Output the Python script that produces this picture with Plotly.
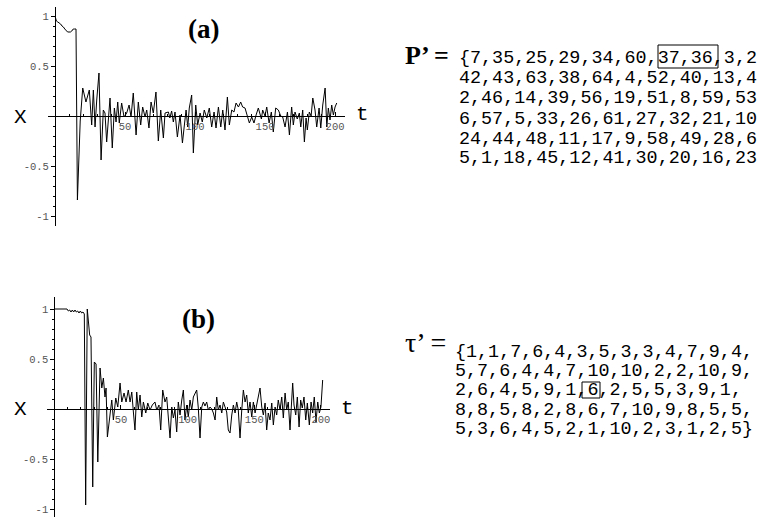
import plotly.graph_objects as go

W, H = 762, 517

# ---------------- data ----------------
t_a = [0, 1, 2, 3, 4, 5, 6, 7, 8, 9, 10, 11, 12, 13, 14, 15, 16, 17, 18, 19.8, 22.1, 24.5, 26.2, 27.4,
       28.6, 29.8, 31.4, 32.9, 34.5, 35.7, 36.9, 39.3, 40.9, 42.4, 43.6, 44.8, 45.9, 47.6, 49.3, 51.2,
       52.9, 54.3, 55.9, 57.9, 59.5, 61.2, 62.6, 64.3, 65.5, 67.1, 68.6, 70.2, 72.1, 73.8, 75.5, 77.4,
       78.6, 81, 82, 83.3, 84.5, 85.7, 87.4, 89.3, 91, 92.4, 93.6, 94.8, 95.9, 97.6, 98.8, 100.5, 101.9,
       103.6, 105.2, 106.6, 108.4, 110.2, 111.9, 113.6, 115, 116.7, 118.4, 119.8, 121.4, 123.1, 124.5,
       126.2, 127.8, 129.3, 131, 132.6, 134, 135.7, 137.4, 138.8, 140.5, 142.1, 143.6, 145.2, 147.4,
       148.3, 150, 151.2, 152.9, 154.5, 155.9, 157.6, 159.5, 161.2, 162.6, 164.3, 166, 167.4, 169,
       170.2, 171.4, 173, 174.5, 175.5, 176.9, 178.1, 179.3, 180.2, 181.6, 182.9, 184.1, 185.7, 186.9,
       188.6, 189.8, 191.2, 192.9, 194.1, 195.2, 196.4, 197.6, 198.8, 200, 201.2]
x_a = [1.00, 0.95, 0.94, 0.93, 0.92, 0.90, 0.89, 0.87, 0.85, 0.84, 0.84, 0.84, 0.85, 0.87, 0.87, 0.87,
       -0.84, -0.45, -0.05, 0.28, 0.14, 0.26, -0.09, 0.26, -0.11, 0.16, 0.43, -0.44, 0.06, 0.03, -0.26,
       0.18, -0.32, 0.08, -0.06, 0.14, -0.07, 0.13, -0.01, 0.03, 0.11, -0.01, 0.23, -0.19, 0.14, -0.09,
       0.09, -0.01, 0.06, -0.12, 0.14, 0.03, 0.24, -0.25, 0.06, -0.22, 0.03, 0.04, -0.02, 0.05, -0.06,
       0.04, -0.21, 0.01, -0.27, -0.09, 0.06, -0.11, 0.08, 0.21, -0.37, 0.11, -0.09, 0.03, -0.06, 0.06,
       -0.02, 0.08, -0.11, 0.04, -0.12, 0.09, -0.11, 0.06, -0.14, 0.19, -0.09, 0.06, 0.04, 0.13, 0.09,
       0.14, 0.09, 0.08, -0.02, -0.07, -0.01, -0.07, 0.01, 0.08, -0.03, 0.06, 0.0, 0.09, -0.07, 0.04,
       -0.16, 0.08, 0.06, 0.0, -0.01, -0.11, 0.04, -0.19, 0.09, -0.09, 0.04, -0.03, 0.03, -0.11, 0.06,
       -0.26, -0.02, -0.14, 0.04, 0.0, 0.18, 0.06, -0.11, 0.08, -0.12, 0.11, 0.28, -0.11, 0.08, -0.04,
       0.11, 0.01, 0.09, 0.13]

t_b = [0, 9.5, 10.5, 11.5, 12.5, 13.5, 14.5, 15.5, 16.5, 17.5, 18.5, 19.5, 20.5, 21.5, 22.5, 23.5, 24.7,
       26.5, 27.5, 28.8, 30, 31.3, 32.6, 34.3, 35.6, 36.8, 38, 38.8, 39.8, 41.8, 43.1, 44.3, 46.1, 47.6,
       49.3, 50.6, 52.3, 53.8, 55.5, 56.8, 58.1, 59.3, 60.5, 61.8, 63, 64.3, 65.6, 66.8, 68.6, 70.1, 71.8,
       73.5, 75.5, 76.8, 78.5, 79.8, 81.3, 83, 84.3, 85.5, 86.8, 88.1, 89.3, 90.5, 91.8, 93, 94.3, 95.6,
       96.8, 98, 99.3, 100.5, 101.8, 103.1, 104.3, 106.8, 108, 109.3, 110.6, 111.8, 113, 114.3, 115.5,
       116.8, 118.1, 119.3, 120.6, 121.8, 123, 124.3, 125.6, 126.8, 128, 129.3, 130.5, 131.8, 133.1,
       134.3, 135.6, 136.8, 138, 139.3, 140.6, 141.8, 143.1, 144.3, 145.5, 146.8, 148.1, 149.3, 150.6,
       151.8, 154.3, 155.6, 156.8, 158.1, 159.3, 160.5, 161.8, 163.1, 164.3, 165.6, 166.8, 168, 169.3,
       170.6, 171.8, 173.1, 174.3, 175.5, 176.8, 178.8, 179.8, 181.1, 182.3, 183.6, 184.8, 186, 187.3,
       188.6, 189.8, 191.3, 192.6, 193.8, 195, 196.3, 197.6, 198.8, 200, 201.3]
x_b = [1.0, 1.0, 0.98, 0.99, 0.97, 0.99, 0.97, 0.99, 0.97, 0.98, 0.96, 0.98, 0.96, 0.97, 0.95, -0.96,
       1.0, 0.74, 0.72, -0.78, 0.47, 0.45, -0.53, 0.41, 0.21, 0.31, 0.12, 0.21, -0.28, -0.08, 0.09,
       -0.11, 0.11, 0.02, 0.26, 0.07, 0.16, 0.07, 0.19, 0.07, 0.17, -0.03, -0.21, 0.17, -0.01, 0.14,
       -0.08, 0.07, -0.04, 0.06, -0.01, 0.04, 0.07, -0.01, 0.04, -0.21, 0.19, 0.07, 0.12, -0.08, -0.29,
       0.02, -0.09, -0.01, -0.23, 0.07, -0.06, 0.09, 0.19, -0.11, 0.04, -0.08, 0.09, -0.01, 0.12, 0.19,
       0.01, -0.29, 0.02, 0.07, 0.03, 0.07, -0.01, 0.02, 0.0, -0.04, -0.11, 0.12, -0.01, 0.04, -0.04,
       0.07, 0.02, -0.03, -0.21, -0.24, -0.06, 0.04, -0.04, 0.07, -0.01, -0.29, -0.01, 0.19, 0.07, 0.14,
       -0.04, 0.07, -0.08, 0.07, -0.04, 0.04, 0.21, 0.02, -0.06, 0.06, -0.21, -0.04, -0.11, 0.06, -0.16,
       0.02, -0.06, 0.09, -0.01, 0.12, -0.09, 0.16, -0.01, 0.07, -0.21, 0.26, 0.04, -0.06, 0.12, -0.18,
       0.09, 0.01, 0.12, -0.11, 0.06, -0.16, 0.07, -0.04, 0.12, -0.13, 0.07, -0.04, 0.02, 0.29]

x_tickvals = [50, 100, 150, 200]
x_ticktext = ["50", "100", "150", "200"]
y_tickvals = [-1, -0.5, 0.5, 1]
y_ticktext = ["-1", "-0.5", "0.5", "1"]

p_lines = ["{7,35,25,29,34,60,37,36,3,2",
           "42,43,63,38,64,4,52,40,13,4",
           "2,46,14,39,56,19,51,8,59,53",
           "6,57,5,33,26,61,27,32,21,10",
           "24,44,48,11,17,9,58,49,28,6",
           "5,1,18,45,12,41,30,20,16,23"]
tau_lines = ["{1,1,7,6,4,3,5,3,3,4,7,9,4,",
             "5,7,6,4,4,7,10,10,2,2,10,9,",
             "2,6,4,5,9,1,6,2,5,5,3,9,1,",
             "8,8,5,8,2,8,6,7,10,9,8,5,5,",
             "5,3,6,4,5,2,1,10,2,3,1,2,5}"]

assert len(t_a) == len(x_a), (len(t_a), len(x_a))
assert len(t_b) == len(x_b), (len(t_b), len(x_b))


def px(x):
    return x / W


def py(y):
    return 1 - y / H


MONO = "Liberation Mono"
SERIF = "Liberation Serif"

fig = go.Figure()
fig.add_trace(go.Scatter(x=t_a, y=x_a, mode="lines", line=dict(color="black", width=1),
                         xaxis="x", yaxis="y", showlegend=False, hoverinfo="skip"))
fig.add_trace(go.Scatter(x=t_b, y=x_b, mode="lines", line=dict(color="black", width=1),
                         xaxis="x2", yaxis="y2", showlegend=False, hoverinfo="skip"))

tickfont = dict(family=MONO, size=10.5, color="#555")
minor_x = [v for v in range(10, 201, 10) if v % 50]
minor_y = [round(v * 0.1, 1) for v in range(-10, 11) if v % 5]


def xaxis(dom, rng, pos):
    return dict(domain=dom, range=rng, anchor="free", position=pos, showline=True,
                linecolor="black", linewidth=1, showgrid=False, zeroline=False,
                tickmode="array", tickvals=x_tickvals, ticktext=x_ticktext,
                ticks="inside", ticklen=4, tickcolor="black", tickfont=tickfont,
                minor=dict(tickmode="array", tickvals=minor_x, ticks="inside", ticklen=2,
                           tickcolor="black", showgrid=False),
                fixedrange=True)


def yaxis(dom, rng, pos):
    return dict(domain=dom, range=rng, anchor="free", position=pos, showline=True,
                linecolor="black", linewidth=1, showgrid=False, zeroline=False,
                tickmode="array", tickvals=y_tickvals, ticktext=y_ticktext,
                ticks="outside", ticklen=4, tickcolor="black", tickfont=tickfont,
                minor=dict(tickmode="array", tickvals=minor_y, ticks="outside", ticklen=2,
                           tickcolor="black", showgrid=False),
                fixedrange=True)


fig.update_layout(
    width=W, height=H, margin=dict(l=0, r=0, t=0, b=0),
    paper_bgcolor="white", plot_bgcolor="white", showlegend=False,
    xaxis=xaxis([px(48), px(345)], [-5, 207.1], py(116)),
    yaxis=yaxis([py(226), py(7)], [-1.10, 1.09], px(55)),
    xaxis2=xaxis([px(47), px(330)], [-5.5, 206.8], py(409)),
    yaxis2=yaxis([py(517), py(297)], [-1.08, 1.12], px(54.3)),
)

ann = []


def add_text(text, x, y, family, size, xanchor="left", bold=False):
    if bold:
        text = "<b>" + text + "</b>"
    ann.append(dict(text=text, x=px(x), y=py(y), xref="paper", yref="paper",
                    xanchor=xanchor, yanchor="middle", showarrow=False,
                    font=dict(family=family, size=size, color="black")))


add_text("(a)", 203, 29, SERIF, 27, "center", bold=True)
add_text("(b)", 198, 319, SERIF, 27, "center", bold=True)
add_text("X", 20, 117, MONO, 21, "center")
add_text("X", 20, 409, MONO, 21, "center")
add_text("t", 362, 115, MONO, 21, "center")
add_text("t", 347, 408, MONO, 21, "center")
add_text("P’ =", 403, 56, SERIF, 26, bold=True)
add_text("τ’ =", 403, 342, SERIF, 28)

p_y = [58, 78.5, 99, 119, 139, 158.5]
for s, yy in zip(p_lines, p_y):
    add_text(s, 457, yy, MONO, 18.4)
tau_y = [352, 371.5, 390.5, 410, 429]
for s, yy in zip(tau_lines, tau_y):
    add_text(s, 453, yy, MONO, 18.4)

fig.update_layout(annotations=ann)

shapes = [
    dict(type="rect", xref="paper", yref="paper", x0=px(658), x1=px(718), y0=py(68), y1=py(45),
         line=dict(color="black", width=1)),
    dict(type="rect", xref="paper", yref="paper", x0=px(582), x1=px(600), y0=py(398), y1=py(382),
         line=dict(color="black", width=1)),
]
fig.update_layout(shapes=shapes)

fig.write_html("out.html", config={"displayModeBar": False},
               post_script="document.body.style.margin='0';document.body.style.overflow='hidden';")
